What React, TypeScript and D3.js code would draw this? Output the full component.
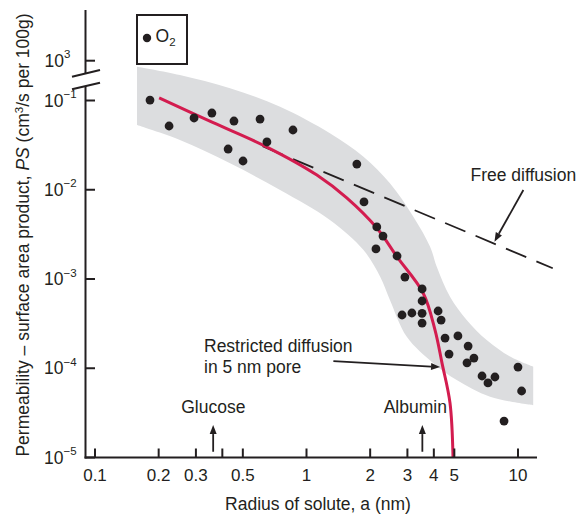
import React from 'react';
import * as d3 from 'd3';

// ---- data ----
const soluteRadius = [0.182, 0.224, 0.294, 0.357, 0.454, 0.603, 0.863, 0.650, 0.426, 0.501, 1.73, 1.87, 2.15, 2.30, 2.13, 2.68, 2.92, 3.52, 3.52, 2.83, 3.15, 3.52, 3.52, 4.19, 4.33, 4.52, 5.20, 4.72, 5.81, 6.19, 5.74, 6.76, 7.78, 7.21, 10.0, 10.4, 8.59];
const permeability = [0.101, 0.0518, 0.0637, 0.0724, 0.0589, 0.0620, 0.0467, 0.0343, 0.0286, 0.0210, 0.0194, 0.0073, 0.00383, 0.00303, 0.00217, 0.00181, 0.00105, 0.000773, 0.000567, 0.000395, 0.000416, 0.000413, 0.000321, 0.000438, 0.000347, 0.000218, 0.000230, 0.000144, 0.000177, 0.000130, 0.000115, 0.0000819, 0.0000798, 0.0000684, 0.000103, 0.0000556, 0.0000256];

const restrictedR = [0.201, 0.362, 0.650, 1.12, 1.55, 2.15, 2.68, 3.56, 4.05, 4.37, 4.77, 4.93];
const restrictedPS = [0.107, 0.0564, 0.0301, 0.0146, 0.00809, 0.00372, 0.00177, 0.000697, 0.000269, 0.000115, 0.0000408, 0.00001];

const freeR = [0.62, 14.6];
const freePS = [0.0307, 0.00132];

const bandUpperR = [0.158, 0.252, 0.435, 0.750, 1.29, 1.86, 2.48, 3.20, 3.84, 4.13, 4.77, 5.72, 7.11, 9.17, 11.8];
const bandUpperPS = [0.239, 0.193, 0.137, 0.0852, 0.0430, 0.0234, 0.0118, 0.00499, 0.00230, 0.00137, 0.000634, 0.000348, 0.000207, 0.000135, 0.000104];
const bandLowerR = [0.158, 0.252, 0.435, 0.750, 1.29, 1.86, 2.23, 2.48, 2.98, 3.98, 5.13, 7.38, 11.8];
const bandLowerPS = [0.0531, 0.0361, 0.0198, 0.00993, 0.00458, 0.00211, 0.00106, 0.000582, 0.000225, 0.000114, 0.0000738, 0.000048, 0.0000385];

const xTickValues = [0.1, 0.2, 0.3, 0.4, 0.5, 1, 2, 3, 4, 5, 10];
const xTickLabels = ['0.1', '0.2', '0.3', '', '0.5', '1', '2', '3', '4', '5', '10'];
const yTickExponents = [-1, -2, -3, -4, -5];
const yTopTickExponents = [3];

// annotation arrows in data units: [r0, ps0, r1(tip), ps1(tip)]
const glucoseArrow = [0.362, 0.0000116, 0.362, 0.0000231];
const albuminArrow = [3.53, 0.0000116, 3.53, 0.0000231];
const freeArrow = [10.6, 0.00993, 7.74, 0.00262];
const restrictedArrow = [1.34, 0.00012, 4.28, 0.000103];

const W = 577;
const H = 514;
const FONT = '"Liberation Sans", Arial, Helvetica, sans-serif';
const INK = '#231f20';
const RED = '#d31c4f';
const BAND = '#dcdddf';

export default function App() {
  const x = d3.scaleLog().domain([0.1, 10]).range([95, 518]);
  const y = d3.scaleLog().domain([1e-5, 1e-1]).range([457.5, 100.5]);
  const yTop = d3.scaleLog().domain([1e3, 1e4]).range([60.7, 60.7 - 89.25]);

  const line = d3.line<[number, number]>().x(d => x(d[0])).y(d => y(d[1])).curve(d3.curveCatmullRom.alpha(0.5));
  const upper: [number, number][] = bandUpperR.map((r, i) => [r, bandUpperPS[i]]);
  const lower: [number, number][] = bandLowerR.map((r, i) => [r, bandLowerPS[i]]).reverse() as [number, number][];
  const bandPath = (line(upper) || '') + 'L' + (line(lower) || '').slice(1) + 'Z';

  const restrictedPath = line(restrictedR.map((r, i) => [r, restrictedPS[i]] as [number, number])) || '';
  const freePath = d3.line<[number, number]>().x(d => x(d[0])).y(d => y(d[1]))(freeR.map((r, i) => [r, freePS[i]] as [number, number])) || '';

  const arrow = (a: number[], key: string) => {
    const x0 = x(a[0]), y0 = y(a[1]), x1 = x(a[2]), y1 = y(a[3]);
    const dx = x1 - x0, dy = y1 - y0;
    const len = Math.hypot(dx, dy);
    const ux = dx / len, uy = dy / len;
    const hl = 9, hw = 3.5;
    const bx = x1 - ux * hl, by = y1 - uy * hl;
    const pts = `${x1},${y1} ${bx - uy * hw},${by + ux * hw} ${bx + uy * hw},${by - ux * hw}`;
    return (
      <g key={key}>
        <line x1={x0} y1={y0} x2={bx} y2={by} stroke={INK} strokeWidth={1.8} />
        <polygon points={pts} fill={INK} />
      </g>
    );
  };

  const axisX0 = 85.5;
  const axisY = 457.5;

  return (
    <svg width={W} height={H} style={{ position: 'absolute', left: 0, top: 0, background: '#fff' }} fontFamily={FONT}>
      <rect width={W} height={H} fill="#fff" />
      {/* band */}
      <path d={bandPath} fill={BAND} />
      {/* free diffusion dashed */}
      <path d={freePath} fill="none" stroke={INK} strokeWidth={1.8} strokeDasharray="22 11" />
      {/* restricted curve */}
      <path d={restrictedPath} fill="none" stroke={RED} strokeWidth={3} />
      {/* dots */}
      {soluteRadius.map((r, i) => (
        <circle key={i} cx={x(r)} cy={y(permeability[i])} r={4.4} fill={INK} />
      ))}
      {/* arrows */}
      {arrow(glucoseArrow, 'g')}
      {arrow(albuminArrow, 'a')}
      {arrow(freeArrow, 'f')}
      {arrow(restrictedArrow, 'r')}

      {/* y axis */}
      <line x1={axisX0} y1={10} x2={axisX0} y2={73.5} stroke={INK} strokeWidth={2} />
      <line x1={axisX0} y1={86} x2={axisX0} y2={axisY + 1} stroke={INK} strokeWidth={2} />
      <line x1={72} y1={76.7} x2={100} y2={70} stroke={INK} strokeWidth={2} />
      <line x1={72} y1={89.3} x2={100} y2={82.7} stroke={INK} strokeWidth={2} />
      {yTickExponents.map(e => (
        <g key={e}>
          <line x1={axisX0} x2={axisX0 + 9.5} y1={y(Math.pow(10, e))} y2={y(Math.pow(10, e))} stroke={INK} strokeWidth={2} />
          <text x={44} y={y(Math.pow(10, e)) + 6} fontSize={17.5} fill={INK}>
            10<tspan dy={-8.5} fontSize={11.5}>{'\u2212' + Math.abs(e)}</tspan>
          </text>
        </g>
      ))}
      {yTopTickExponents.map(e => (
        <g key={'t' + e}>
          <line x1={axisX0} x2={axisX0 + 9.5} y1={yTop(Math.pow(10, e))} y2={yTop(Math.pow(10, e))} stroke={INK} strokeWidth={2} />
          <text x={44.5} y={yTop(Math.pow(10, e)) + 6} fontSize={17.5} fill={INK}>
            10<tspan dy={-8.5} fontSize={11.5}>{String(e)}</tspan>
          </text>
        </g>
      ))}

      {/* x axis */}
      <line x1={axisX0 - 1} y1={axisY} x2={537} y2={axisY} stroke={INK} strokeWidth={2} />
      {xTickValues.map((v, i) => (
        <g key={v}>
          <line x1={x(v)} x2={x(v)} y1={axisY} y2={axisY - 9} stroke={INK} strokeWidth={2} />
          {xTickLabels[i] && (
            <text x={x(v)} y={481} fontSize={17} textAnchor="middle" fill={INK}>{xTickLabels[i]}</text>
          )}
        </g>
      ))}

      {/* axis titles */}
      <text x={318} y={510} fontSize={17.5} textAnchor="middle" fill={INK}>Radius of solute, a (nm)</text>
      <text transform="translate(29,235) rotate(-90)" fontSize={17.5} textAnchor="middle" fill={INK}>
        Permeability – surface area product, <tspan fontStyle="italic">PS</tspan> (cm<tspan dy={-6} fontSize={11.5}>3</tspan><tspan dy={6}>/s per 100g)</tspan>
      </text>

      {/* legend */}
      <rect x={137} y={15} width={50} height={49} fill="#fff" stroke={INK} strokeWidth={2} />
      <circle cx={147} cy={38} r={4.2} fill={INK} />
      <text x={155.5} y={42} fontSize={17.5} fill={INK}>O<tspan dy={4} fontSize={11.5}>2</tspan></text>

      {/* annotations */}
      <text x={470.5} y={180.7} fontSize={17.5} fill={INK}>Free diffusion</text>
      <text x={204} y={351.7} fontSize={17.5} fill={INK}>Restricted diffusion</text>
      <text x={204} y={372.5} fontSize={17.5} fill={INK}>in 5 nm pore</text>
      <text x={213.3} y={413} fontSize={17.5} textAnchor="middle" fill={INK}>Glucose</text>
      <text x={415.3} y={413} fontSize={17.5} textAnchor="middle" fill={INK}>Albumin</text>
    </svg>
  );
}
